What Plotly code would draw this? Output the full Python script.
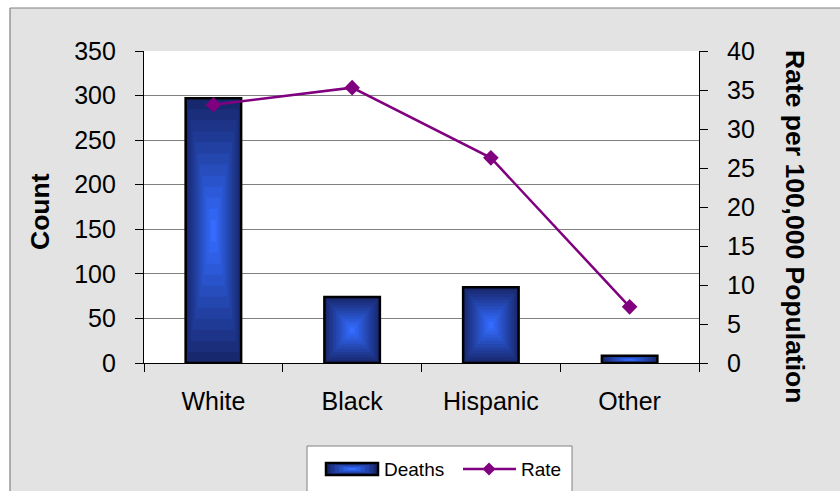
import plotly.graph_objects as go

categories = ["White", "Black", "Hispanic", "Other"]
deaths = [297, 74, 85, 8]
rate = [33.1, 35.3, 26.3, 7.2]
legend_labels = ["Deaths", "Rate"]

W, H = 840, 491
L, R, T, B = 144, 699, 51, 363
pw, ph = R - L, B - T

def px_x(p):
    return (p - L) / pw

def px_y(p):
    return (B - p) / ph

FONT = "Liberation Sans, Arial, sans-serif"
BAR_W = 0.4
N = 12
dark = (24, 40, 110)
bright = (52, 108, 255)
PURPLE = "#800080"

fig = go.Figure()
for k in range(N):
    f = 0.5 * k / N
    t = k / (N - 1)
    col = tuple(int(dark[i] + (bright[i] - dark[i]) * t) for i in range(3))
    fig.add_trace(go.Bar(
        x=categories,
        y=[v * (1 - 2 * f) for v in deaths],
        base=[v * f for v in deaths],
        width=BAR_W * (1 - 2 * f),
        marker=dict(color="rgb(%d,%d,%d)" % col, line=dict(width=0)),
        name="Deaths",
        showlegend=False,
        hoverinfo="skip" if k else None,
    ))
# outline on top
fig.add_trace(go.Bar(
    x=categories, y=deaths, width=BAR_W,
    marker=dict(color="rgba(0,0,0,0)", line=dict(color="black", width=2.5)),
    showlegend=False, hoverinfo="skip",
))
fig.add_trace(go.Scatter(
    x=categories, y=rate, yaxis="y2", name="Rate",
    mode="lines+markers",
    line=dict(color=PURPLE, width=2.5),
    marker=dict(symbol="diamond", size=12, color=PURPLE),
    showlegend=False,
))

def prect(x0, y0, x1, y1, **kw):
    d = dict(type="rect", xref="paper", yref="paper",
             x0=px_x(x0), x1=px_x(x1), y0=px_y(y1), y1=px_y(y0), layer="above")
    d.update(kw)
    return d

def pline(x0, y0, x1, y1, **kw):
    d = dict(type="line", xref="paper", yref="paper",
             x0=px_x(x0), x1=px_x(x1), y0=px_y(y0), y1=px_y(y1), layer="above")
    d.update(kw)
    return d

shapes = [
    # white strips outside the chart frame
    prect(-5, -5, 10, H + 5, fillcolor="white", line=dict(width=0)),
    prect(-5, -5, W + 5, 8, fillcolor="white", line=dict(width=0)),
    pline(10, 8, 10, H + 5, line=dict(color="#808080", width=1.2)),
    pline(10, 8, W + 5, 8, line=dict(color="#808080", width=1.2)),
    # legend box
    prect(307, 446, 572, H + 10, fillcolor="white", line=dict(color="#808080", width=1)),
]
# legend bar symbol (gradient-like)
sx0, sy0, sx1, sy1 = 326, 463, 378, 475
for k in range(6):
    f = 0.5 * k / 6
    t = k / 5
    col = tuple(int(dark[i] + (bright[i] - dark[i]) * t) for i in range(3))
    shapes.append(prect(sx0 + (sx1 - sx0) * f, sy0 + (sy1 - sy0) * f,
                        sx1 - (sx1 - sx0) * f, sy1 - (sy1 - sy0) * f,
                        fillcolor="rgb(%d,%d,%d)" % col, line=dict(width=0)))
shapes.append(prect(sx0, sy0, sx1, sy1, fillcolor="rgba(0,0,0,0)",
                    line=dict(color="black", width=2.5)))
# legend line symbol
shapes.append(pline(463, 469, 516, 469, line=dict(color=PURPLE, width=2.5)))
dx, dy = 6.5, 6.5
cx, cy = 489, 469
shapes.append(dict(type="path", xref="paper", yref="paper", layer="above",
                   path="M %f,%f L %f,%f L %f,%f L %f,%f Z" % (
                       px_x(cx - dx), px_y(cy), px_x(cx), px_y(cy - dy),
                       px_x(cx + dx), px_y(cy), px_x(cx), px_y(cy + dy)),
                   fillcolor=PURPLE, line=dict(width=0)))

annotations = [
    dict(text="<b>Count</b>", xref="paper", yref="paper", x=px_x(40), y=px_y(212),
         textangle=-90, showarrow=False, font=dict(family=FONT, size=26.5, color="black"),
         xanchor="center", yanchor="middle"),
    dict(text="<b>Rate per 100,000 Population</b>", xref="paper", yref="paper",
         x=px_x(795), y=px_y(226), textangle=90, showarrow=False,
         font=dict(family=FONT, size=26.5, color="black"),
         xanchor="center", yanchor="middle"),
    dict(text=legend_labels[0], xref="paper", yref="paper", x=px_x(382), y=px_y(469),
         xanchor="left", yanchor="middle", showarrow=False,
         font=dict(family=FONT, size=19, color="black")),
    dict(text=legend_labels[1], xref="paper", yref="paper", x=px_x(519), y=px_y(469),
         xanchor="left", yanchor="middle", showarrow=False,
         font=dict(family=FONT, size=19, color="black")),
]

fig.update_layout(
    width=W, height=H,
    margin=dict(l=L, r=W - R, t=T, b=H - B, pad=0),
    paper_bgcolor="#e3e3e3",
    plot_bgcolor="white",
    barmode="overlay",
    font=dict(family=FONT, size=25, color="black"),
    shapes=shapes,
    annotations=annotations,
    showlegend=False,
    xaxis=dict(type="category", showline=True, linecolor="black", linewidth=1.2,
               ticks="outside", ticklen=8, tickcolor="black", tickson="boundaries",
               ticklabelstandoff=16, showgrid=False, zeroline=False),
    yaxis=dict(range=[0, 350], dtick=50, showline=True, linecolor="black", linewidth=1.2,
               ticks="outside", ticklen=8, tickcolor="black", ticklabelstandoff=14,
               showgrid=True, gridcolor="#808080", gridwidth=1, zeroline=False),
    yaxis2=dict(range=[0, 40], dtick=5, overlaying="y", side="right", showline=True,
                linecolor="black", linewidth=1.2, ticks="outside", ticklen=8,
                tickcolor="black", ticklabelstandoff=14, showgrid=False, zeroline=False),
)

fig.write_html("out.html")
